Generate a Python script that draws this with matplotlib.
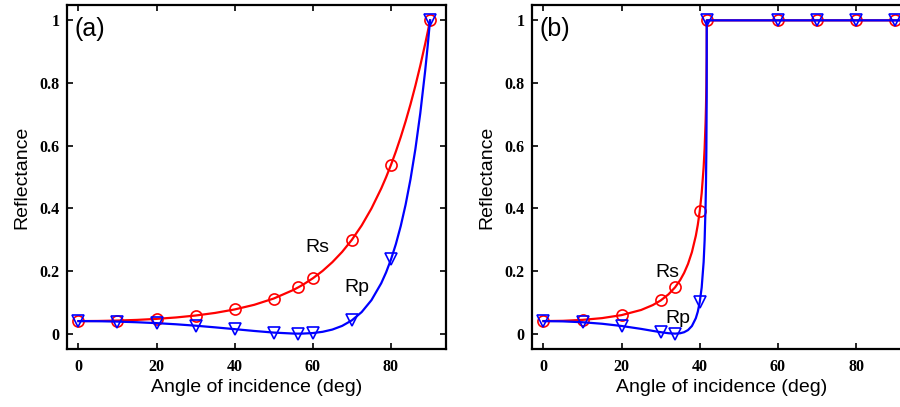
import matplotlib
matplotlib.use("Agg")
import matplotlib.pyplot as plt
from matplotlib.ticker import FuncFormatter

# (a) external reflection, curve samples
angle_a = [0, 5, 10, 15, 20, 25, 30, 35, 40, 45, 50, 55, 56.3, 57.5, 60, 62.5,
           65, 67.5, 70, 72.5, 75, 77.5, 78.75, 80, 81.25, 82.5, 83.75, 85,
           86.25, 87.5, 88.75, 89.4, 90]
rs_a = [.040, .0404, .0417, .0438, .0471, .0516, .0578, .0661, .0772, .0920,
        .1121, .1393, .1479, .1564, .1766, .2002, .2281, .2609, .2996, .3453,
        .3994, .4632, .4993, .5386, .5813, .6276, .6778, .7323, .7915, .8555,
        .9249, .9632, 1.0]
rp_a = [.040, .0396, .0384, .0363, .0335, .0298, .0253, .0200, .0143, .0085,
        .0033, .0002, 0, .0002, .0018, .0058, .0130, .0247, .0425, .0688,
        .1068, .1607, .1955, .2368, .2857, .3436, .4121, .4932, .5894, .7035,
        .8389, .9191, 1.0]

# (a) marker points
mk_angle_a = [0, 10, 20, 30, 40, 50, 56.3, 60, 70, 80, 90]
mk_rs_a = [.040, .0417, .0471, .0578, .0772, .1121, .1479, .1766, .2996, .5386, 1.0]
mk_rp_a = [.040, .0384, .0335, .0253, .0143, .0033, 0, .0018, .0425, .2368, 1.0]

# (b) internal reflection, curve samples
angle_b = [0, 5, 10, 15, 20, 25, 28, 30, 32, 33.7, 35, 36, 37, 38, 39, 39.5,
           40, 40.5, 41, 41.25, 41.5, 41.6, 41.7, 41.78, 41.8, 60, 70, 80, 90, 95]
rs_b = [.040, .0409, .0439, .0495, .0591, .0755, .0912, .1058, .1254, .1479,
        .1711, .1937, .2224, .2601, .3122, .3469, .3905, .4482, .5310, .5904,
        .6751, .7238, .7910, .8844, 1, 1, 1, 1, 1, 1]
rp_b = [.040, .0391, .0363, .0315, .0244, .0151, .0087, .0046, .0013, 0,
        .0012, .0045, .0113, .0243, .0492, .0698, .1001, .1472, .2285, .2967,
        .4082, .4801, .5886, .7582, 1, 1, 1, 1, 1, 1]

mk_angle_b = [0, 10, 20, 30, 33.7, 40, 41.8, 60, 70, 80, 90]
mk_rs_b = [.040, .0439, .0591, .1058, .1479, .3905, 1, 1, 1, 1, 1]
mk_rp_b = [.040, .0363, .0244, .0046, 0, .1001, 1, 1, 1, 1, 1]

panels = [
    ("(a)", angle_a, rs_a, rp_a, mk_angle_a, mk_rs_a, mk_rp_a, (61.2, 0.276), (71.3, 0.148)),
    ("(b)", angle_b, rs_b, rp_b, mk_angle_b, mk_rs_b, mk_rp_b, (31.6, 0.196), (34.3, 0.047)),
]

fig = plt.figure(figsize=(9, 4.07), dpi=100)
positions = [[0.0741, 0.1418, 0.4211, 0.8467], [0.5908, 0.1418, 0.4211, 0.8467]]

tick_font = {"family": "Liberation Serif", "weight": "bold", "size": 11.5}
sans = "Liberation Sans"

for pos, (tag, ang, rs, rp, mka, mrs, mrp, rs_xy, rp_xy) in zip(positions, panels):
    ax = fig.add_axes(pos)
    ax.plot(ang, rs, color="red", lw=1.6, zorder=2)
    ax.plot(mka, mrs, "o", ms=8, mfc="none", mec="red", mew=1.2, zorder=3)
    ax.plot(ang, rp, color="blue", lw=1.6, zorder=4)
    ax.plot(mka, mrp, "v", ms=8.5, mfc="none", mec="blue", mew=1.2, zorder=5)

    ax.set_xlim(-3, 94)
    ax.set_ylim(-0.05, 1.05)
    ax.set_xticks([0, 20, 40, 60, 80])
    ax.set_yticks([0, 0.2, 0.4, 0.6, 0.8, 1])
    ax.yaxis.set_major_formatter(FuncFormatter(lambda v, p: "%g" % round(v, 2)))
    ax.tick_params(direction="in", top=True, right=True, length=4, width=1.2)
    ax.tick_params(axis="x", pad=7)
    ax.tick_params(axis="y", pad=5)
    for lab in ax.get_xticklabels() + ax.get_yticklabels():
        lab.set_fontfamily(tick_font["family"])
        lab.set_fontweight(tick_font["weight"])
        lab.set_fontsize(tick_font["size"])
    for sp in ax.spines.values():
        sp.set_linewidth(1.6)

    ax.set_xlabel("Angle of incidence (deg)", fontsize=14, family=sans, labelpad=3)
    ax.set_ylabel("Reflectance", fontsize=14, family=sans, labelpad=7)
    ax.text(0.02, 0.965, tag, transform=ax.transAxes, fontsize=18, family=sans,
            ha="left", va="top")
    ax.text(rs_xy[0], rs_xy[1], "Rs", fontsize=14, family=sans, ha="center", va="center")
    ax.text(rp_xy[0], rp_xy[1], "Rp", fontsize=14, family=sans, ha="center", va="center")

fig.savefig("out.png", dpi=100)
